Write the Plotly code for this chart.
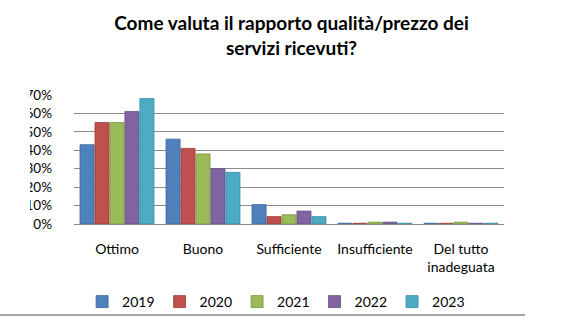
import plotly.graph_objects as go

categories = ["Ottimo", "Buono", "Sufficiente", "Insufficiente", "Del tutto<br>inadeguata"]
years = ["2019", "2020", "2021", "2022", "2023"]
v2019 = [43, 46, 10.5, 0.4, 0.4]
v2020 = [55, 41, 4, 0.4, 0.4]
v2021 = [55, 38, 5, 1, 1]
v2022 = [61, 30, 7, 1, 0.4]
v2023 = [68, 28, 4, 0.4, 0.4]
series = [v2019, v2020, v2021, v2022, v2023]
colors = ["#4F81BD", "#C0504D", "#9BBB59", "#8064A2", "#4BACC6"]
line_colors = ["#3A6596", "#983C3A", "#789443", "#634E80", "#3589A0"]
y_ticks = [0, 10, 20, 30, 40, 50, 60, 70]
y_ticklabels = ["0%", "10%", "20%", "30%", "40%", "50%", "60%", "70%"]

FONT = "Lato"

fig = go.Figure()
for name, vals, c, lc in zip(years, series, colors, line_colors):
    fig.add_trace(go.Bar(
        x=categories, y=vals, name=name,
        marker=dict(color=c, line=dict(color=lc, width=0.8)),
    ))

W, H = 565, 330
L, R, T, B = 74, 61, 94, 99
PW, PH = W - L - R, H - T - B

fig.update_layout(
    width=W, height=H,
    margin=dict(l=L, r=R, t=T, b=B),
    paper_bgcolor="white", plot_bgcolor="white",
    font=dict(family=FONT, size=14, color="#000000"),
    barmode="group", bargap=0.13, bargroupgap=0.06,
    title=dict(
        text="<b>Come valuta il rapporto qualità/prezzo dei<br>servizi ricevuti?</b>",
        x=0.516, xanchor="center", xref="container",
        y=1 - 30 / H, yanchor="middle", yref="container",
        font=dict(family=FONT, size=19, color="#000000"),
    ),
    showlegend=True,
    legend=dict(
        orientation="h", x=0.47, xanchor="center", y=-0.6, yanchor="middle",
        font=dict(family=FONT, size=14), itemwidth=30, bgcolor="rgba(0,0,0,0)",
    ),
    xaxis=dict(
        showgrid=False, showline=True, linecolor="#8C8C8C", linewidth=1,
        ticks="", tickfont=dict(family=FONT, size=14), ticklabelstandoff=12,
    ),
    yaxis=dict(
        range=[0, 70.5], tickvals=y_ticks, ticktext=y_ticklabels,
        showgrid=True, gridcolor="#8C8C8C", gridwidth=1,
        zeroline=False, showline=False, ticks="",
        tickfont=dict(family=FONT, size=13.5), ticklabelstandoff=21,
    ),
    shapes=[
        # clipped left edge of the original image
        dict(type="rect", xref="paper", yref="paper",
             x0=-L / PW, x1=(30 - L) / PW, y0=-0.2, y1=1.2,
             fillcolor="white", line=dict(width=0), layer="above"),
        # bottom separator line
        dict(type="line", xref="paper", yref="paper",
             x0=-L / PW, x1=(525 - L) / PW, y0=(PH - (327 - T)) / PH, y1=(PH - (327 - T)) / PH,
             line=dict(color="#A6A6A6", width=2), layer="above"),
    ],
)

fig.write_html("out.html")
